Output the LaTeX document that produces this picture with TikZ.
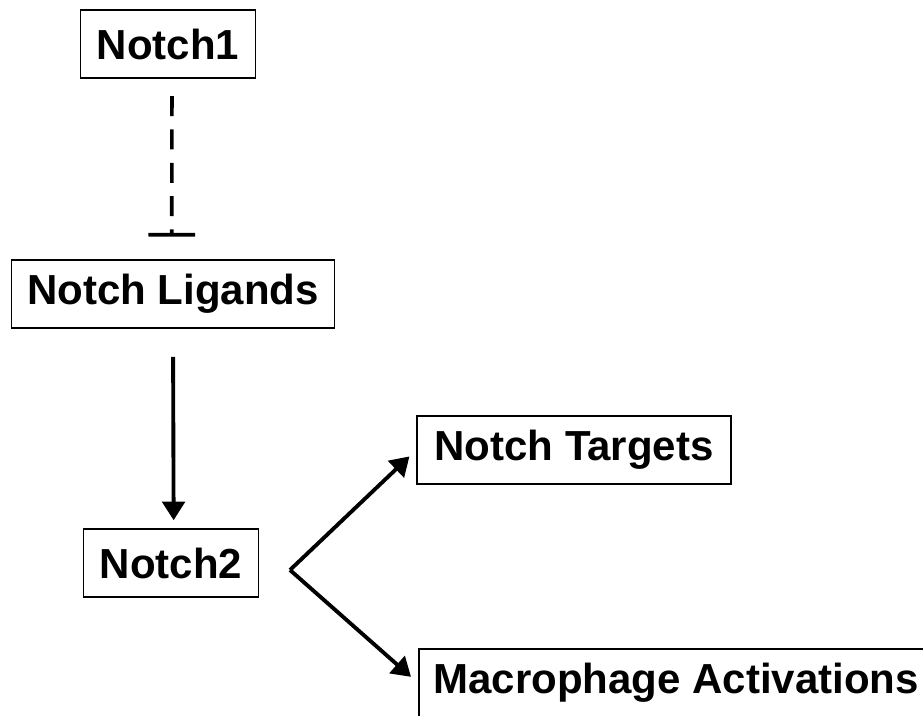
\documentclass[tikz,border=0pt]{standalone}
\usepackage{fontspec}
\setmainfont{Liberation Sans}
\usetikzlibrary{arrows.meta}

\tikzset{
  genebox/.style={draw, line width=1.2pt, minimum height=51pt, inner xsep=11pt,
    font=\bfseries\fontsize{31.5}{37}\selectfont},
  actarrow/.style={line width=2.9pt, -{Triangle[length=14pt,width=17pt]}},
  inhibit/.style={line width=2.7pt, dash pattern=on 15pt off 10pt, -{Bar[width=35pt,line width=2.7pt]}}
}

\begin{document}
\begin{tikzpicture}[x=0.75pt, y=-0.75pt]
    % Page frame
    \useasboundingbox (0,0) rectangle (923,715);
    \clip (0,0) rectangle (923,715);

    % Left column
    \node[genebox, minimum width=131pt] (notch1) at (168,44) {Notch1};
    \node[genebox, minimum width=242pt] (ligands) at (173,294) {Notch Ligands};
    \node[genebox, minimum width=131pt] (notch2) at (171,563) {Notch2};

    % Right branch
    \node[genebox, minimum width=235.5pt] (targets) at (574,450) {Notch Targets};
    \node[genebox, anchor=west] (macro) at (418,683) {Macrophage Activations};
    \coordinate (fork) at (290,570);

    % Connectors
    \draw[inhibit, shorten <=13pt, shorten >=17pt] ([xshift=3]notch1.south) -- ([xshift=-1]ligands.north);
    \draw[actarrow, shorten <=21pt, shorten >=6pt] (ligands.south) -- ([xshift=2]notch2.north);
    \draw[actarrow, shorten >=7pt] (fork) -- (targets.west);
    \draw[actarrow, shorten >=7pt] (fork) -- (macro.west);
\end{tikzpicture}
\end{document}
